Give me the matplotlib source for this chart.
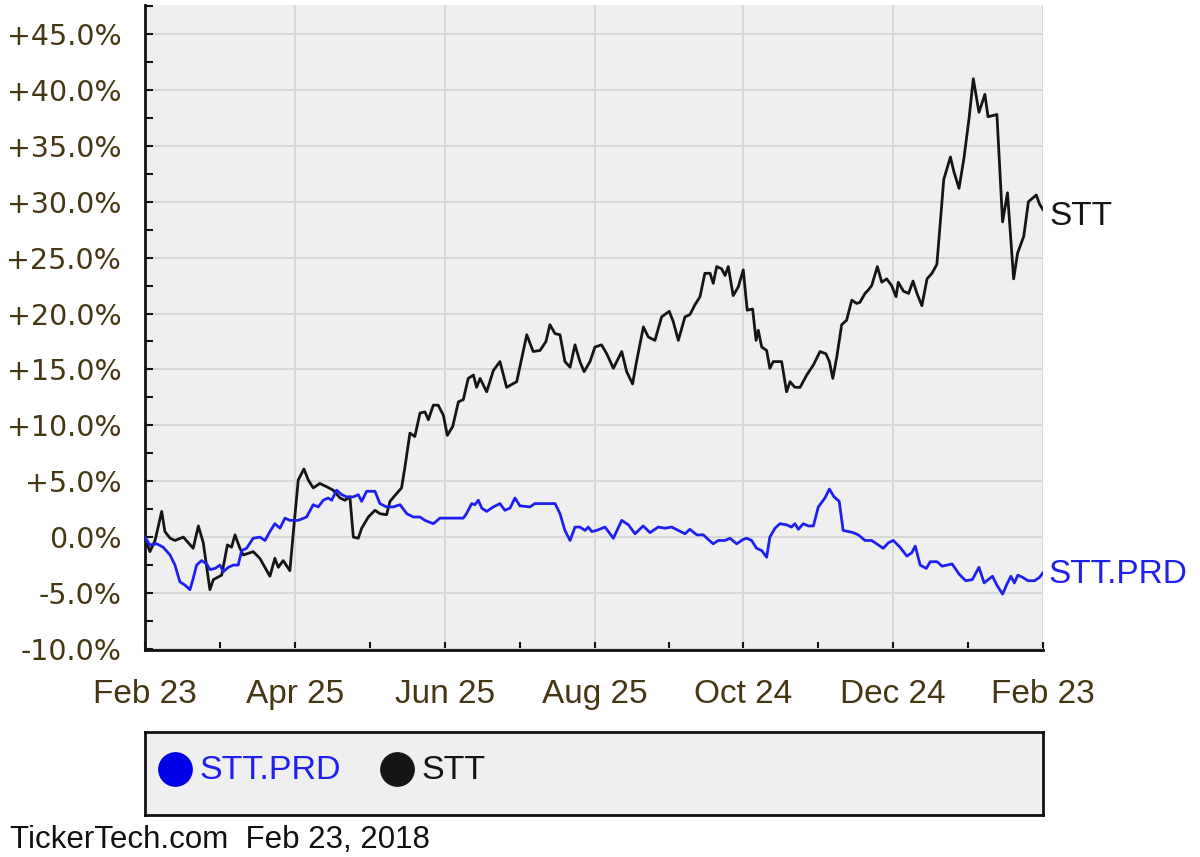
import numpy as np
import matplotlib
matplotlib.use("Agg")
import matplotlib.pyplot as plt
from matplotlib.ticker import FixedLocator, MultipleLocator, FuncFormatter

# x values are calendar days since Feb 23, 2017; y values are % change
START = np.datetime64("2017-02-23")
tick_dates = ["2017-02-23", "2017-04-25", "2017-06-25", "2017-08-25",
              "2017-10-24", "2017-12-24", "2018-02-23"]
tick_labels = ["Feb 23", "Apr 25", "Jun 25", "Aug 25", "Oct 24", "Dec 24", "Feb 23"]

stt_days = [0, 2.0, 4.1, 6.8, 8.1, 10.2, 12.2, 15.6, 19.6, 21.7, 23.7, 26.4,
            27.8, 31.2, 33.5, 35.2, 36.6, 38.6, 40.0, 44.0, 46.7, 50.8, 52.8,
            54.2, 56.2, 58.9, 60.3, 62.3, 64.6, 66.4, 68.4, 71.1, 73.9, 76.5,
            79.3, 81.3, 83.3, 84.7, 86.7, 88.1, 90.8, 93.5, 95.5, 98.2, 99.6,
            102.3, 104.3, 105.7, 107.7, 109.7, 111.8, 113.8, 115.2, 117.2,
            119.2, 121.3, 122.9, 125.1, 127.4, 129.4, 131.4, 133.5, 134.8,
            136.2, 138.9, 141.6, 144.3, 147.0, 151.1, 155.2, 157.8, 160.6,
            163.0, 164.6, 166.7, 168.7, 170.7, 172.8, 174.8, 176.8, 178.5,
            180.9, 182.9, 185.6, 187.7, 190.4, 193.8, 195.8, 198.2, 199.9,
            202.6, 204.6, 207.3, 210.0, 213.1, 214.7, 216.8, 219.5, 221.5,
            223.6, 225.6, 227.6, 229.7, 231.0, 232.4, 234.4, 235.8, 237.1,
            239.1, 241.2, 243.2, 244.8, 247.0, 248.4, 249.3, 250.7, 252.7,
            254.0, 255.4, 258.8, 260.8, 262.2, 264.2, 266.3, 269.0, 271.7,
            274.4, 276.8, 278.2, 279.6, 281.2, 283.2, 285.2, 287.3, 289.3,
            290.6, 292.7, 294.0, 295.4, 297.7, 299.5, 301.5, 303.5, 305.3,
            306.2, 308.3, 310.4, 312.2, 313.8, 315.8, 317.9, 319.9, 321.9,
            323.3, 324.7, 327.4, 328.8, 330.9, 332.9, 335.0, 336.7, 339.0,
            341.4, 342.7, 346.3, 348.6, 350.6, 353.1, 354.7, 357.2, 359.1,
            362.3, 363.6, 365]
stt_pct = [0, -1.3, -0.3, 2.3, 0.5, -0.1, -0.3, 0.0, -1.0, 1.0, -0.5, -4.7,
           -3.8, -3.4, -0.7, -0.9, 0.2, -1.0, -1.6, -1.3, -1.9, -3.5, -1.9,
           -2.7, -2.1, -3.0, 0.4, 5.1, 6.1, 5.1, 4.4, 4.8, 4.5, 4.2,
           3.5, 3.3, 3.6, 0.0, -0.1, 0.8, 1.8, 2.4, 2.1, 2.0, 3.2,
           3.9, 4.4, 6.3, 9.3, 9.0, 11.1, 11.2, 10.5, 11.8,
           11.8, 10.9, 9.1, 9.9, 12.1, 12.3, 14.2, 14.5, 13.4,
           14.2, 13.0, 14.9, 15.7, 13.4, 13.9, 18.1, 16.6, 16.7,
           17.5, 19.0, 18.2, 18.1, 15.7, 15.2, 17.2, 15.7, 14.8,
           15.7, 17.0, 17.2, 16.4, 15.1, 16.6, 14.8, 13.7, 15.8,
           18.8, 17.9, 17.6, 19.7, 20.2, 19.3, 17.6, 19.7, 19.9,
           20.8, 21.5, 23.6, 23.6, 22.7, 24.2, 24.0, 23.4, 24.2,
           21.6, 22.4, 23.9, 20.3, 20.4, 17.6, 18.5, 17.0, 16.7,
           15.1, 15.7, 15.7, 13.0, 13.9, 13.4, 13.4, 14.5, 15.4,
           16.6, 16.4, 15.7, 14.2, 16.1, 19.0, 19.4, 21.2, 20.9,
           21.0, 21.8, 22.1, 22.5, 24.2, 22.8, 23.1, 22.5, 21.5,
           22.8, 22.0, 21.8, 22.9, 21.8, 20.7, 23.1, 23.6, 24.4,
           28.2, 32.0, 34.0, 32.7, 31.2, 33.9, 37.5, 41.0, 38.0,
           39.6, 37.6, 37.8, 28.2, 30.8, 23.1, 25.4, 26.9, 30.0,
           30.6, 29.8, 29.3]

prd_days = [0, 2.0, 4.8, 7.4, 10.2, 12.2, 14.2, 16.3, 18.3, 19.6, 21.0, 23.0,
            25.1, 26.4, 28.5, 30.5, 31.8, 33.9, 35.9, 37.9, 39.3, 41.3, 44.0,
            46.7, 48.8, 50.8, 52.8, 54.9, 56.9, 58.9, 62.3, 65.7, 68.4, 70.4,
            72.5, 74.5, 75.9, 77.9, 80.0, 82.0, 84.7, 86.7, 88.1, 90.1, 93.5,
            95.5, 98.2, 100.9, 103.7, 106.4, 109.1, 111.8, 113.8, 117.2,
            119.9, 122.6, 129.4, 130.7, 132.8, 134.1, 135.5, 136.9, 138.9,
            141.6, 144.3, 146.3, 148.4, 150.4, 152.4, 156.5, 158.5, 166.7,
            168.7, 170.7, 172.8, 174.8, 176.8, 178.9, 180.2, 181.6, 183.6,
            187.0, 190.4, 193.8, 196.5, 199.2, 202.5, 205.3, 208.6, 211.4,
            214.1, 216.8, 219.5, 221.5, 224.3, 227.0, 228.4, 231.0, 233.0,
            235.8, 237.8, 240.5, 243.2, 244.6, 246.6, 248.6, 250.7, 252.7,
            254.0, 256.1, 258.1, 260.8, 262.8, 264.2, 265.6, 267.6, 269.6,
            271.7, 273.7, 276.4, 278.2, 280.1, 282.2, 283.8, 285.9, 287.9,
            290.0, 292.7, 295.4, 297.4, 300.1, 302.2, 304.2, 306.9, 309.7,
            311.7, 313.1, 315.1, 317.6, 319.2, 322.0, 324.0, 328.1, 330.9,
            333.6, 336.3, 339.0, 341.1, 344.5, 346.3, 348.6, 350.6, 352.0,
            353.4, 354.8, 356.8, 358.9, 361.6, 363.6, 365]
prd_pct = [0, -0.7, -0.6, -0.9, -1.6, -2.5, -4.0, -4.3, -4.7, -3.7, -2.5, -2.1,
           -2.4, -2.9, -2.8, -2.5, -3.1, -2.7, -2.5, -2.5, -1.2, -1.0, -0.1,
           0.0, -0.3, 0.5, 1.2, 0.8, 1.7, 1.5, 1.5, 1.8, 2.9, 2.7,
           3.3, 3.5, 3.3, 4.2, 3.8, 3.6, 3.6, 3.8, 3.2, 4.1, 4.1,
           3.0, 2.7, 2.7, 2.9, 2.1, 1.8, 1.8, 1.5, 1.2,
           1.7, 1.7, 1.7, 2.1, 3.0, 2.9, 3.3, 2.6, 2.3,
           2.7, 3.0, 2.4, 2.6, 3.5, 2.8, 2.7, 3.0, 3.0,
           2.1, 0.6, -0.3, 0.9, 0.9, 0.6, 0.9, 0.5, 0.6,
           0.9, -0.1, 1.5, 1.1, 0.3, 1.0, 0.4, 0.9, 0.8,
           0.9, 0.6, 0.3, 0.7, 0.2, 0.2, -0.1, -0.6, -0.3,
           -0.3, -0.1, -0.6, -0.2, -0.1, -0.3, -1.0, -1.2, -1.8,
           0.0, 0.8, 1.2, 1.1, 0.9, 1.2, 0.7, 1.2, 1.0,
           1.0, 2.7, 3.5, 4.3, 3.6, 3.2, 0.6, 0.5, 0.4,
           0.2, -0.3, -0.3, -0.6, -1.0, -0.5, -0.3, -0.9, -1.7,
           -1.4, -0.8, -2.5, -2.8, -2.2, -2.2, -2.6, -2.4, -3.3,
           -3.9, -3.8, -2.7, -4.1, -3.5, -4.3, -5.1, -4.1, -3.5,
           -4.1, -3.4, -3.6, -3.9, -3.9, -3.6, -3.2]

BLUE = "#1f1ff0"
BLACK = "#151515"
LABEL_BROWN = "#463714"

fig = plt.figure(figsize=(12, 8.57), dpi=100)
ax = fig.add_axes([0.1208, 0.2415, 0.7483, 0.7527])
ax.set_facecolor("#efefef")

ax.plot(stt_days, stt_pct, color=BLACK, lw=2.0, zorder=3)
ax.plot(prd_days, prd_pct, color=BLUE, lw=2.0, zorder=3)

ax.set_xlim(0, 365)
ax.set_ylim(-10.1, 47.6)

# x ticks at the labelled dates, unlabelled ticks half way between
major_x = [int((np.datetime64(d) - START).astype(int)) for d in tick_dates]
minor_x = [(a + b) / 2 for a, b in zip(major_x[:-1], major_x[1:])]
ax.xaxis.set_major_locator(FixedLocator(major_x))
ax.xaxis.set_minor_locator(FixedLocator(minor_x))
ax.set_xticklabels(tick_labels)

ax.yaxis.set_major_locator(MultipleLocator(5))
ax.yaxis.set_minor_locator(MultipleLocator(2.5))
ax.yaxis.set_major_formatter(FuncFormatter(
    lambda v, p: f"{v:+.1f}%" if v > 0 else f"{v:.1f}%"))

ax.grid(True, which="major", color="#d8d8d8", lw=1.5, zorder=0)
ax.set_axisbelow(True)

for s in ("top", "right"):
    ax.spines[s].set_visible(False)
for s in ("left", "bottom"):
    ax.spines[s].set_linewidth(2)
    ax.spines[s].set_color("#111111")

ax.tick_params(axis="both", which="both", direction="in", length=6,
               width=1.5, color="#111111")
ax.tick_params(axis="x", which="major", pad=21, labelsize=24,
               labelcolor=LABEL_BROWN)
ax.tick_params(axis="y", which="major", pad=17, labelsize=20.5,
               labelcolor=LABEL_BROWN)
for lab in ax.get_xticklabels():
    lab.set_fontfamily("Liberation Sans")
for lab in ax.get_yticklabels():
    lab.set_fontfamily("DejaVu Sans")

# series names at the right end of each line
ax.annotate("STT", xy=(365, stt_pct[-1]), xytext=(5, -5),
            textcoords="offset points", color=BLACK, fontsize=24,
            family="Liberation Sans", va="center", ha="left",
            annotation_clip=False)
ax.annotate("STT.PRD", xy=(365, prd_pct[-1]), xytext=(4, -1),
            textcoords="offset points", color=BLUE, fontsize=24,
            family="Liberation Sans", va="center", ha="left",
            annotation_clip=False)

# legend panel
lg = fig.add_axes([0.1208, 0.0490, 0.7483, 0.0969])
lg.set_facecolor("#efefef")
lg.set_xlim(0, 1)
lg.set_ylim(0, 1)
lg.set_xticks([])
lg.set_yticks([])
for s in lg.spines.values():
    s.set_linewidth(2)
    s.set_color("#111111")
lg.plot([0.033], [0.56], "o", ms=24, color="#0000e6", clip_on=False)
lg.text(0.061, 0.54, "STT.PRD", color=BLUE, fontsize=24.5,
        family="Liberation Sans", va="center")
lg.plot([0.281], [0.56], "o", ms=24, color=BLACK, clip_on=False)
lg.text(0.308, 0.54, "STT", color=BLACK, fontsize=24.5,
        family="Liberation Sans", va="center")

fig.text(10 / 1200, 1 - 840 / 857, "TickerTech.com  Feb 23, 2018",
         fontsize=22.5, family="Liberation Sans", color="#111111",
         va="center", ha="left")

fig.savefig("out.png", dpi=100, facecolor="white")
